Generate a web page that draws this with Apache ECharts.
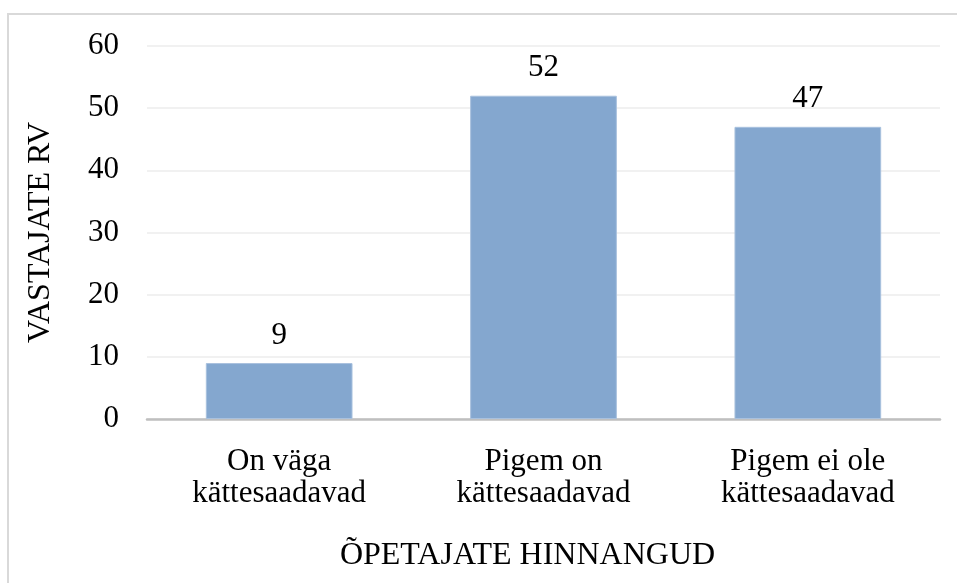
<!DOCTYPE html>
<html>
<head>
<meta charset="utf-8">
<script src="https://cdn.jsdelivr.net/npm/echarts@6/dist/echarts.min.js"></script>
<style>
  html, body { margin: 0; padding: 0; background: #fff; }
  #chart { width: 957px; height: 583px; }
</style>
</head>
<body>
<div id="chart"></div>
<script>
const categories = ['On väga\nkättesaadavad', 'Pigem on\nkättesaadavad', 'Pigem ei ole\nkättesaadavad']
const counts = [9, 52, 47]
const yTicks = [0, 60, 10] // min, max, step

const font = 'Liberation Serif, Times New Roman, serif'
const chart = echarts.init(document.getElementById('chart'))
chart.setOption({
  animation: false,
  graphic: [{
    type: 'rect',
    shape: {x: 8, y: 14, width: 970, height: 600},
    style: {fill: 'none', stroke: '#d9d9d9', lineWidth: 2},
    silent: true
  }],
  grid: {left: 147, right: 17, top: 46, bottom: 164},
  xAxis: {
    type: 'category',
    data: categories,
    name: 'ÕPETAJATE HINNANGUD',
    nameLocation: 'middle',
    nameGap: 121,
    // right padding nudges the title a bit left, like in the original
    nameTextStyle: {fontFamily: font, fontSize: 32, color: '#000', padding: [0, 32, 0, 0]},
    axisLine: {lineStyle: {color: '#bfbfbf', width: 2.5}},
    axisTick: {show: false},
    axisLabel: {
      fontFamily: font, fontSize: 31, color: '#000',
      lineHeight: 32, margin: 27, interval: 0
    }
  },
  yAxis: {
    type: 'value',
    min: yTicks[0], max: yTicks[1], interval: yTicks[2],
    name: 'VASTAJATE RV',
    nameLocation: 'middle',
    nameGap: 90,
    nameTextStyle: {fontFamily: font, fontSize: 32, color: '#000'},
    axisLine: {show: false},
    axisTick: {show: false},
    axisLabel: {fontFamily: font, fontSize: 31, color: '#000', margin: 28},
    splitLine: {lineStyle: {color: '#ececec', width: 1.5}}
  },
  series: [{
    type: 'bar',
    data: counts,
    barWidth: '55.5%',
    itemStyle: {color: '#84a7cf', borderColor: '#a9c1de', borderWidth: 1},
    label: {
      show: true, position: 'top', distance: 12,
      fontFamily: font, fontSize: 31, color: '#000'
    }
  }]
})
</script>
</body>
</html>
